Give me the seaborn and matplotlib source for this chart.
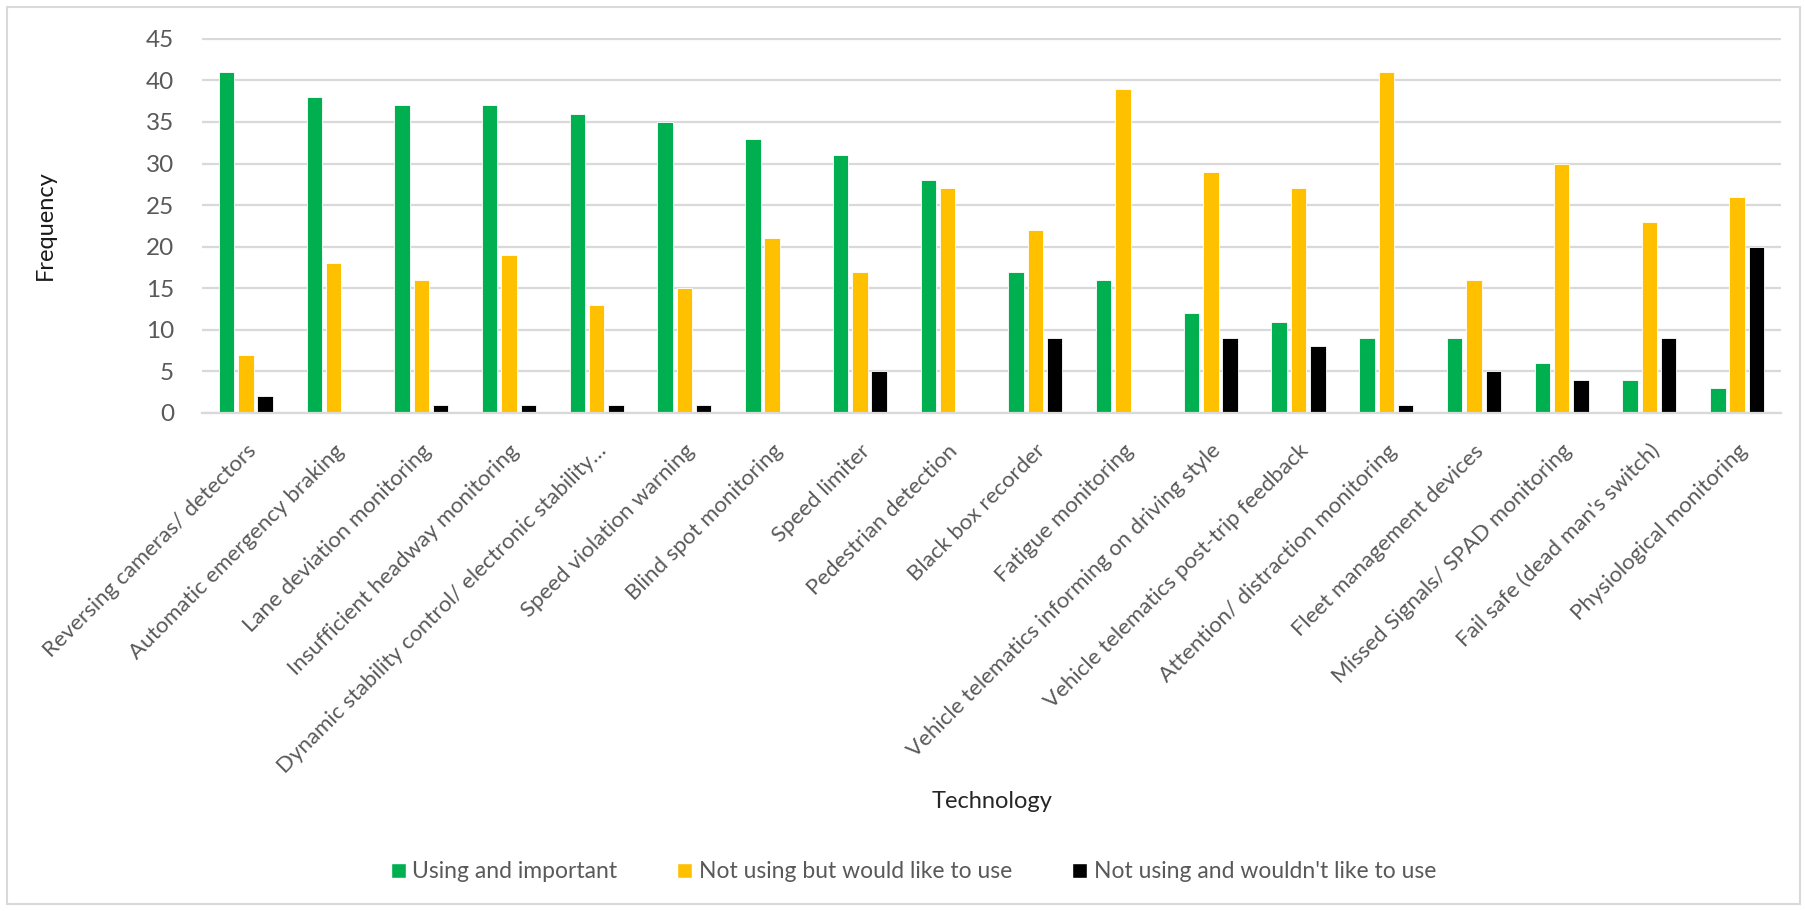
import matplotlib
matplotlib.use("Agg")
import matplotlib.pyplot as plt
import seaborn as sns
import pandas as pd
from matplotlib.patches import Rectangle

# categories along the x axis
technologies = [
    "Reversing cameras/ detectors",
    "Automatic emergency braking",
    "Lane deviation monitoring",
    "Insufficient headway monitoring",
    "Dynamic stability control/ electronic stability\u2026",
    "Speed violation warning",
    "Blind spot monitoring",
    "Speed limiter",
    "Pedestrian detection",
    "Black box recorder",
    "Fatigue monitoring",
    "Vehicle telematics informing on driving style",
    "Vehicle telematics post-trip feedback",
    "Attention/ distraction monitoring",
    "Fleet management devices",
    "Missed Signals/ SPAD monitoring",
    "Fail safe (dead man's switch)",
    "Physiological monitoring",
]

# series values
using_important = [41, 38, 37, 37, 36, 35, 33, 31, 28, 17, 16, 12, 11, 9, 9, 6, 4, 3]
would_like = [7, 18, 16, 19, 13, 15, 21, 17, 27, 22, 39, 29, 27, 41, 16, 30, 23, 26]
wouldnt_like = [2, 0, 1, 1, 1, 1, 0, 5, 0, 9, 0, 9, 8, 1, 5, 4, 9, 20]

series_names = ["Using and important",
                "Not using but would like to use",
                "Not using and wouldn't like to use"]
series_colors = ["#00B050", "#FFC000", "#000000"]

df = pd.DataFrame({
    "Technology": technologies * 3,
    "Frequency": using_important + would_like + wouldnt_like,
    "Group": [series_names[0]] * 18 + [series_names[1]] * 18 + [series_names[2]] * 18,
})

sns.set_theme(style="white")
plt.rcParams["font.family"] = ["Lato", "DejaVu Sans"]

fig = plt.figure(figsize=(18.05, 9.11), dpi=100)
ax = fig.add_axes([0.1119, 0.5467, 0.8748, 0.4116])

sns.barplot(data=df, x="Technology", y="Frequency", hue="Group",
            palette=series_colors, width=0.66, gap=0.2,
            edgecolor="white", linewidth=0.6, saturation=1,
            ax=ax, legend=False)

ax.set_ylim(0, 45.1)
ax.set_yticks(range(0, 46, 5))
ax.set_xlim(-0.5, len(technologies) - 0.5)
ax.yaxis.grid(True, color="#D9D9D9", linewidth=1.6)
ax.set_axisbelow(True)
for s in ["top", "right", "left"]:
    ax.spines[s].set_visible(False)
ax.spines["bottom"].set_color("#D9D9D9")
ax.spines["bottom"].set_linewidth(1.6)

ax.tick_params(axis="y", length=0, pad=20, labelsize=17.5, labelcolor="#595959")
ax.tick_params(axis="x", length=0, pad=20, labelsize=16, labelcolor="#595959")
plt.setp(ax.get_xticklabels(), rotation=45, ha="right", rotation_mode="anchor")

ax.set_xlabel("")
ax.set_ylabel("")
fig.text(0.025, 0.753, "Frequency", rotation=90, ha="center", va="center",
         fontsize=17, color="#1a1a1a")
fig.text(0.5496, 0.12, "Technology", ha="center", va="center",
         fontsize=17, color="#262626")

# legend
handles = [Rectangle((0, 0), 1, 1, facecolor=c) for c in series_colors]
fig.legend(handles, series_names, loc="center", bbox_to_anchor=(0.506, 0.043),
           ncol=3, frameon=False, fontsize=16.5, labelcolor="#595959",
           handlelength=0.65, handleheight=0.65, handletextpad=0.3,
           columnspacing=2.6)

# light chart border
fig.patches.append(Rectangle((0.004, 0.008), 0.993, 0.984, transform=fig.transFigure,
                             fill=False, edgecolor="#D9D9D9", linewidth=1.5))

fig.savefig("out.png", dpi=100, facecolor="white")
